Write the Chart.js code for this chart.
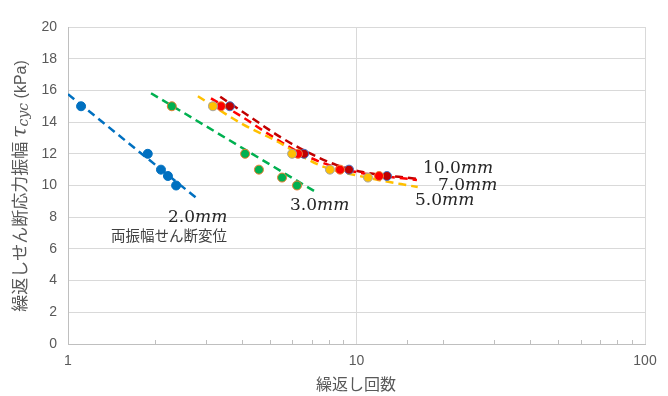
<!DOCTYPE html>
<html>
<head>
<meta charset="utf-8">
<script src="https://cdn.jsdelivr.net/npm/chart.js@4"></script>
<style>
  html, body { margin: 0; padding: 0; background: #fff; }
  #wrap { width: 668px; height: 396px; }
</style>
</head>
<body>
<div id="wrap"><canvas id="c" width="668" height="396"></canvas></div>
<script>
// measured points: number of cycles (x) vs stress amplitude kPa (y)
const cycles2mm = [1.11, 1.89, 2.10, 2.22, 2.37];
const tau2mm = [15.0, 12.0, 11.0, 10.6, 10.0];
const cycles3mm = [2.29, 4.11, 4.59, 5.52, 6.22];
const tau3mm = [15.0, 12.0, 11.0, 10.5, 10.0];
const cycles5mm = [3.18, 5.98, 8.09, 10.96];
const tau5mm = [15.0, 12.0, 11.0, 10.5];
const cycles7mm = [3.39, 6.27, 8.77, 11.97];
const tau7mm = [15.0, 12.0, 11.0, 10.6];
const cycles10mm = [3.64, 6.58, 9.42, 12.75];
const tau10mm = [15.0, 12.0, 11.0, 10.6];

// trend lines
const trend2mmX = [1.0, 2.80];
const trend2mmY = [15.76, 9.18];
const trend3mmX = [1.94, 7.18];
const trend3mmY = [15.82, 9.62];
const trend5mmX = [2.82, 4.04, 5.22, 7.47, 10.87, 16.3];
const trend5mmY = [15.63, 13.86, 12.85, 11.27, 10.5, 9.9];
const trend7mmX = [3.13, 4.04, 5.0, 6.47, 8.3, 10.3, 16.2];
const trend7mmY = [15.5, 14.3, 13.2, 12.0, 11.2, 10.8, 10.35];
const trend10mmX = [3.37, 4.3, 5.4, 6.6, 8.5, 10.5, 16.2];
const trend10mmY = [15.6, 14.3, 13.1, 12.2, 11.3, 10.85, 10.42];

const xTickLabels = [1, 10, 100];
const yMin = 0, yMax = 20, yStep = 2;

const pts = (xs, ys) => xs.map((x, i) => ({ x: x, y: ys[i] }));

function scatterSet(xs, ys, fill, edge) {
  return {
    type: 'scatter', data: pts(xs, ys), order: 0,
    backgroundColor: fill, borderColor: edge, borderWidth: 1,
    pointRadius: 4.5, pointHoverRadius: 4.5
  };
}
function trendSet(xs, ys, color) {
  return {
    type: 'line', data: pts(xs, ys), order: 1,
    borderColor: color, borderWidth: 2.5, borderDash: [8, 5],
    pointRadius: 0, fill: false, cubicInterpolationMode: 'monotone'
  };
}

const SANS = '"Liberation Sans", Arial, "Noto Sans CJK JP", sans-serif';
const JP = '"Noto Sans CJK JP", "Liberation Sans", sans-serif';
const SERIF = '"DejaVu Serif", serif';

// labels and axis titles drawn on the canvas
const decor = {
  id: 'decor',
  beforeDatasetsDraw(chart) {
    // minor ticks on the log axis, inside the plot
    const ctx = chart.ctx, xs = chart.scales.x, a = chart.chartArea;
    ctx.save();
    ctx.strokeStyle = '#bfbfbf';
    ctx.lineWidth = 1;
    xs.ticks.forEach(t => {
      if (xTickLabels.includes(t.value)) return;
      const px = Math.round(xs.getPixelForValue(t.value)) + 0.5;
      ctx.beginPath();
      ctx.moveTo(px, a.bottom);
      ctx.lineTo(px, a.bottom - 4);
      ctx.stroke();
    });
    ctx.restore();
  },
  afterDraw(chart) {
    const ctx = chart.ctx;
    ctx.save();
    ctx.fillStyle = '#262626';
    ctx.textBaseline = 'alphabetic';
    const mm = (txt, x, y) => {
      ctx.font = '17px ' + SERIF;
      ctx.fillText(txt, x, y);
      const w = ctx.measureText(txt).width;
      ctx.font = 'italic 17px ' + SERIF;
      ctx.fillText('mm', x + w, y);
    };
    mm('2.0', 168, 222);
    mm('3.0', 290, 210);
    mm('10.0', 423, 173);
    mm('7.0', 438, 190);
    mm('5.0', 415, 205);
    ctx.font = '14.5px ' + JP;
    ctx.fillStyle = '#404040';
    ctx.fillText('両振幅せん断変位', 111, 241);

    // x title
    ctx.fillStyle = '#595959';
    ctx.font = '16px ' + JP;
    ctx.textAlign = 'center';
    ctx.fillText('繰返し回数', 356, 390);

    // y title, rotated
    ctx.textAlign = 'left';
    const parts = [
      { t: '繰返しせん断応力振幅 ', f: '17px ' + JP, dy: 0 },
      { t: 'τ', f: 'italic 21px ' + SERIF, dy: 0 },
      { t: 'cyc', f: 'italic 14px ' + SERIF, dy: 2 },
      { t: ' (kPa)', f: '16px ' + SANS, dy: 0 }
    ];
    let total = 0;
    parts.forEach(p => { ctx.font = p.f; p.w = ctx.measureText(p.t).width; total += p.w; });
    ctx.translate(26, 186);
    ctx.rotate(-Math.PI / 2);
    let cx = -total / 2;
    parts.forEach(p => {
      ctx.font = p.f;
      ctx.fillText(p.t, cx, p.dy);
      cx += p.w;
    });
    ctx.restore();
  }
};

new Chart(document.getElementById('c'), {
  data: {
    datasets: [
      scatterSet(cycles2mm, tau2mm, '#0070C0', '#0070C0'),
      scatterSet(cycles3mm, tau3mm, '#00B050', '#ED7D31'),
      scatterSet(cycles5mm, tau5mm, '#FFC000', '#A5A5A5'),
      scatterSet(cycles7mm, tau7mm, '#FF0000', '#ED7D31'),
      scatterSet(cycles10mm, tau10mm, '#C00000', '#4472C4'),
      trendSet(trend2mmX, trend2mmY, '#0070C0'),
      trendSet(trend3mmX, trend3mmY, '#00B050'),
      trendSet(trend5mmX, trend5mmY, '#FFC000'),
      trendSet(trend7mmX, trend7mmY, '#FF0000'),
      trendSet(trend10mmX, trend10mmY, '#C00000')
    ]
  },
  options: {
    responsive: false,
    animation: false,
    layout: { padding: { left: 0, top: 27, right: 23, bottom: 0 } },
    plugins: { legend: { display: false }, tooltip: { enabled: false } },
    scales: {
      x: {
        type: 'logarithmic', min: 1, max: 100,
        afterFit(s) { s.height = 52; },
        border: { color: '#bfbfbf' },
        grid: {
          drawTicks: false,
          color: c => (c.tick && xTickLabels.includes(c.tick.value)) ? '#d9d9d9' : 'rgba(0,0,0,0)'
        },
        ticks: {
          autoSkip: false, maxRotation: 0, padding: 9,
          color: '#595959', font: { family: SANS, size: 14 },
          callback: v => xTickLabels.includes(v) ? String(v) : ''
        }
      },
      y: {
        min: yMin, max: yMax,
        afterFit(s) { s.width = 68; },
        border: { color: '#bfbfbf' },
        grid: { drawTicks: false, color: '#d9d9d9' },
        ticks: {
          stepSize: yStep, padding: 11,
          color: '#595959', font: { family: SANS, size: 14 }
        }
      }
    }
  },
  plugins: [decor]
});
</script>
</body>
</html>
